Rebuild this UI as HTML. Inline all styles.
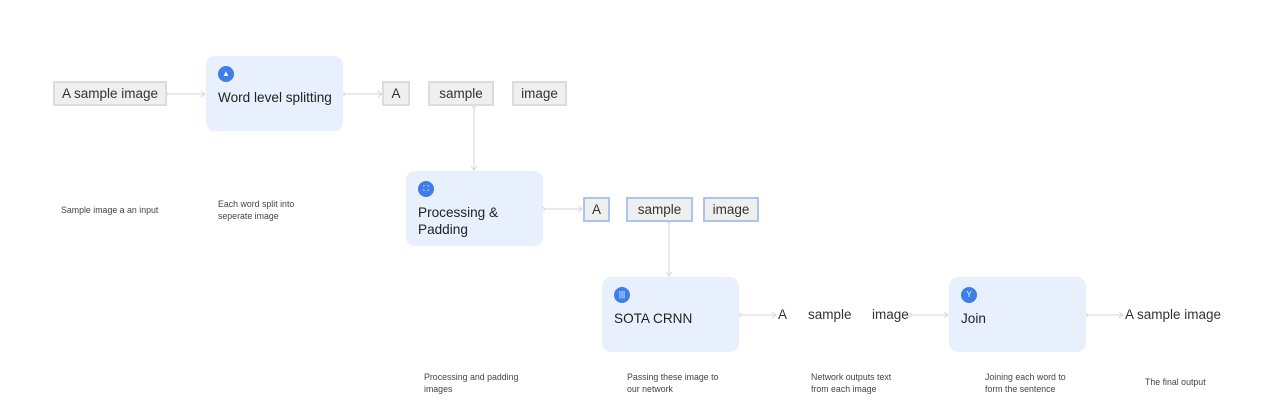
<!DOCTYPE html>
<html><head><meta charset="utf-8"><style>
body{margin:0;width:1280px;height:417px;background:#fff;position:relative;overflow:hidden;font-family:"Liberation Sans",sans-serif;color:#222}
.a{position:absolute}
.wb{position:absolute;background:#efefef;border:2px solid #dcdcdc;box-sizing:border-box;font-size:13.5px;color:#333;display:flex;align-items:center;justify-content:center}
.bb{border-color:#a9c6f3}
.card{position:absolute;background:#e8f0fd;border-radius:9px;width:137px;height:75px}
.ic{position:absolute;left:12px;top:10px;width:16px;height:16px;border-radius:50%;background:#3d7ee8;color:#fff;font-size:8px;text-align:center;line-height:16px}
.ct{position:absolute;left:12px;font-size:13.6px;color:#222;line-height:17px}
.cap{position:absolute;font-size:8.8px;color:#444;line-height:12px}
.t{position:absolute;font-size:13.5px;color:#333}
</style></head><body>
<svg class="a" style="left:0;top:0" width="1280" height="417">
<g stroke="#d6d6d6" stroke-width="1" fill="none">
<line x1="166" y1="94" x2="205" y2="94"/><polyline points="201,91 205,94 201,97"/>
<line x1="343" y1="94" x2="382" y2="94"/><polyline points="378,91 382,94 378,97"/>
<line x1="474" y1="106" x2="474" y2="170"/><polyline points="471,166 474,170 477,166"/>
<line x1="543" y1="209" x2="582" y2="209"/><polyline points="578,206 582,209 578,212"/>
<line x1="669" y1="221" x2="669" y2="276"/><polyline points="666,272 669,276 672,272"/>
<line x1="739" y1="315" x2="776" y2="315"/><polyline points="772,312 776,315 772,318"/>
<line x1="910" y1="315" x2="948" y2="315"/><polyline points="944,312 948,315 944,318"/>
<line x1="1086" y1="315" x2="1123" y2="315"/><polyline points="1119,312 1123,315 1119,318"/>
</g>
<g fill="#fff" stroke="#d6d6d6"><circle cx="166" cy="94" r="1.5"/><circle cx="343" cy="94" r="1.5"/><circle cx="474" cy="106" r="1.5"/><circle cx="543" cy="209" r="1.5"/><circle cx="669" cy="221" r="1.5"/><circle cx="739" cy="315" r="1.5"/><circle cx="910" cy="315" r="1.5"/><circle cx="1086" cy="315" r="1.5"/></g>
</svg>
<div class="wb" style="left:53px;top:81px;width:114px;height:25px">A sample image</div>
<div class="wb" style="left:382px;top:81px;width:28px;height:25px">A</div>
<div class="wb" style="left:428px;top:81px;width:66px;height:25px">sample</div>
<div class="wb" style="left:512px;top:81px;width:55px;height:25px">image</div>
<div class="wb bb" style="left:583px;top:197px;width:27px;height:25px">A</div>
<div class="wb bb" style="left:626px;top:197px;width:67px;height:25px">sample</div>
<div class="wb bb" style="left:703px;top:197px;width:56px;height:25px">image</div>

<div class="card" style="left:206px;top:56px"><div class="ic">▲</div><div class="ct" style="top:33px">Word level splitting</div></div>
<div class="card" style="left:406px;top:171px"><div class="ic">⛶</div><div class="ct" style="top:33px">Processing &amp;<br>Padding</div></div>
<div class="card" style="left:602px;top:277px"><div class="ic">|||</div><div class="ct" style="top:33px">SOTA CRNN</div></div>
<div class="card" style="left:949px;top:277px"><div class="ic">Y</div><div class="ct" style="top:33px">Join</div></div>

<div class="t" style="left:778px;top:307px">A</div>
<div class="t" style="left:808px;top:307px">sample</div>
<div class="t" style="left:872px;top:307px">image</div>
<div class="t" style="left:1125px;top:307px">A sample image</div>

<div class="cap" style="left:61px;top:204px">Sample image a an input</div>
<div class="cap" style="left:218px;top:198px">Each word split into<br>seperate image</div>
<div class="cap" style="left:424px;top:371px">Processing and padding<br>images</div>
<div class="cap" style="left:627px;top:371px">Passing these image to<br>our network</div>
<div class="cap" style="left:811px;top:371px">Network outputs text<br>from each image</div>
<div class="cap" style="left:985px;top:371px">Joining each word to<br>form the sentence</div>
<div class="cap" style="left:1145px;top:376px">The final output</div>
</body></html>
